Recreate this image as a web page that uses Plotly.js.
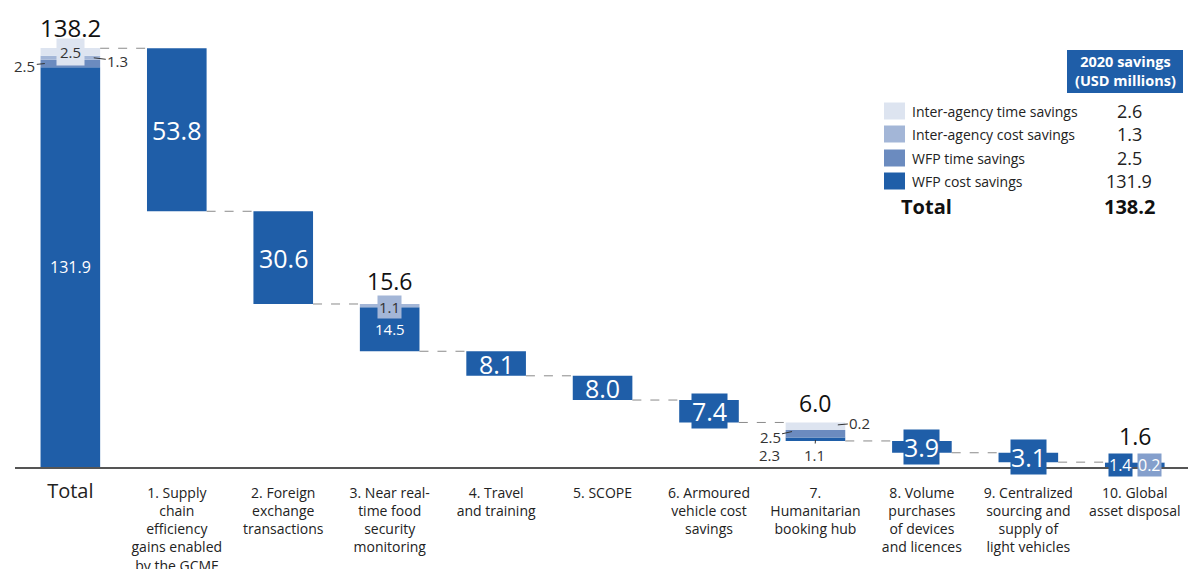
<!DOCTYPE html>
<html><head><meta charset="utf-8">
<script src="https://cdn.plot.ly/plotly-3.0.1.min.js"></script>
<style>html,body{margin:0;padding:0;background:#fff}#chart{width:1188px;height:569px}</style>
</head><body><div id="chart"></div>
<script>
const categories = ["<span style=\"font-size:20px\">Total</span>",
 "1. Supply<br>chain<br>efficiency<br>gains enabled<br>by the GCMF",
 "2. Foreign<br>exchange<br>transactions",
 "3. Near real-<br>time food<br>security<br>monitoring",
 "4. Travel<br>and training",
 "5. SCOPE",
 "6. Armoured<br>vehicle cost<br>savings",
 "7.<br>Humanitarian<br>booking hub",
 "8. Volume<br>purchases<br>of devices<br>and licences",
 "9. Centralized<br>sourcing and<br>supply of<br>light vehicles",
 "10. Global<br>asset disposal"];
const wfpCost   = [131.9, 53.8, 30.6, 14.5, 8.1, 8.0, 7.4, 1.1, 3.9, 3.1, 1.4];
const wfpTime   = [2.5, 0, 0, 0, 0, 0, 0, 2.5, 0, 0, 0];
const interCost = [1.3, 0, 0, 1.1, 0, 0, 0, 0, 0, 0, 0.2];
const interTime = [2.6, 0, 0, 0, 0, 0, 0, 2.5, 0, 0, 0];
const topLabels = ["138.2", "", "", "15.6", "", "", "", "6.0", "", "", "1.6"];
const legendNames  = ["Inter-agency time savings", "Inter-agency cost savings", "WFP time savings", "WFP cost savings"];
const legendValues = ["2.6", "1.3", "2.5", "131.9"];
const legendTotal  = "138.2";

const C_DARK = "#1f5ea8", C_MED = "#6b8bbf", C_LC = "#a3b6d7", C_LT = "#dde4f0";
const FONT = "Open Sans, Noto Sans, sans-serif";
const W = 1188, H = 569, ML = 15, MR = 0, MT = 10, MB = 102;
const PW = W - ML - MR, PH = H - MT - MB;
const px = x => (x - ML) / PW;
const py = y => 1 - (y - MT) / PH;

const n = categories.length;
const xs = categories.map((_, i) => i);
const sums = xs.map(i => wfpCost[i] + wfpTime[i] + interCost[i] + interTime[i]);
const bottom = new Array(n).fill(0);
for (let i = n - 2; i >= 1; i--) bottom[i] = bottom[i + 1] + sums[i + 1];
bottom[0] = 0;
const barTop = xs.map(i => bottom[i] + sums[i]);
const BW = 0.56;

const series = [[wfpCost, C_DARK], [wfpTime, C_MED], [interCost, C_LC], [interTime, C_LT]];
const traces = [];
let acc = bottom.slice();
series.forEach(([vals, col]) => {
  traces.push({type: "bar", x: xs, y: vals, base: acc.slice(), width: BW,
    marker: {color: col, line: {width: 0}}, hoverinfo: "skip", showlegend: false});
  acc = acc.map((b, i) => b + vals[i]);
});

const shapes = [];
for (let i = 1; i < n; i++) {
  shapes.push({type: "line", xref: "x", yref: "y", x0: i - 1 + BW / 2, x1: i - BW / 2,
    y0: barTop[i], y1: barTop[i], line: {color: "#8a8a8a", width: 1, dash: "dash"}});
}
const ann = [];
const A = o => ann.push(Object.assign({xanchor: "center", yanchor: "middle", showarrow: false}, o));
const topShift = {0: 2, 3: 5, 7: 1, 10: 8};
xs.forEach(i => { if (topLabels[i]) A({x: i, y: barTop[i], xref: "x", yref: "y", text: topLabels[i],
  yanchor: "bottom", yshift: topShift[i] || 0, font: {family: FONT, size: i === 0 ? 24 : 23, color: "#111"}}); });
const big = [1, 2, 4, 5, 6, 8, 9];
big.forEach(i => {
  const boxed = wfpCost[i] < 8;
  A({x: i, y: bottom[i] + wfpCost[i] / 2, xref: "x", yref: "y", text: wfpCost[i].toFixed(1),
    font: {family: FONT, size: 25, color: "#fff"}, bgcolor: boxed ? C_DARK : "rgba(0,0,0,0)", borderpad: 0});
});
A({x: 0, y: wfpCost[0] / 2, xref: "x", yref: "y", text: wfpCost[0].toFixed(1), font: {family: FONT, size: 16, color: "#fff"}});
A({x: 3, y: bottom[3] + wfpCost[3] / 2, xref: "x", yref: "y", text: wfpCost[3].toFixed(1), font: {family: FONT, size: 15, color: "#fff"}});
A({x: 3, y: bottom[3] + wfpCost[3] + 0.1, xref: "x", yref: "y", text: interCost[3].toFixed(1), font: {family: FONT, size: 15, color: "#333"}, bgcolor: C_LC, borderpad: 1});
A({x: 0, y: barTop[0] - 1.2, xref: "x", yref: "y", text: "2.5", font: {family: FONT, size: 15, color: "#333"}, bgcolor: C_LT, borderpad: 3});
const arr = {showarrow: true, arrowhead: 0, arrowwidth: 1, arrowcolor: "#333", standoff: 0};
A(Object.assign({x: -BW / 2 + 0.04, y: wfpCost[0] + wfpTime[0] / 2, xref: "x", yref: "y", text: wfpTime[0].toFixed(1), ax: -20, ay: 2, font: {family: FONT, size: 15, color: "#333"}}, arr));
A(Object.assign({x: BW / 2 - 0.06, y: wfpCost[0] + wfpTime[0] + interCost[0] / 2, xref: "x", yref: "y", text: interCost[0].toFixed(1), ax: 24, ay: 3, font: {family: FONT, size: 15, color: "#333"}}, arr));
A(Object.assign({x: 7 - BW / 2 + 0.06, y: bottom[7] + wfpCost[7] + 2.0, xref: "x", yref: "y", text: "2.5", ax: -22, ay: 5, font: {family: FONT, size: 15, color: "#333"}}, arr));
A({x: 7, y: bottom[7] - 4.6, xref: "x", yref: "y", xshift: -46, text: "2.3", font: {family: FONT, size: 15, color: "#333"}});
A(Object.assign({x: 7, y: bottom[7] + 0.3, xref: "x", yref: "y", text: wfpCost[7].toFixed(1), ax: -1, ay: 15, font: {family: FONT, size: 15, color: "#333"}}, arr));
A(Object.assign({x: 7 + BW / 2 - 0.07, y: barTop[7] - 0.8, xref: "x", yref: "y", text: "0.2", ax: 22, ay: -2, font: {family: FONT, size: 15, color: "#333"}}, arr));
A({x: 10, y: 0.6, xref: "x", yref: "y", xshift: -14, text: wfpCost[10].toFixed(1), font: {family: FONT, size: 16, color: "#fff"}, bgcolor: C_DARK, borderpad: 0});
A({x: 10, y: 0.6, xref: "x", yref: "y", xshift: 15, text: interCost[10].toFixed(1), font: {family: FONT, size: 16, color: "#fff"}, bgcolor: "#849fcc", borderpad: 0});

shapes.push({type: "rect", xref: "paper", yref: "paper", x0: px(1067), x1: px(1183), y0: py(93), y1: py(50), fillcolor: C_DARK, line: {width: 0}});
A({xref: "paper", yref: "paper", x: px(1125), y: py(71.5), text: "<b>2020 savings<br>(USD millions)</b>", font: {family: FONT, size: 14.5, color: "#fff"}});
const legCols = [C_LT, C_LC, C_MED, C_DARK];
const rowsY = [111, 134, 158, 181];
legendNames.forEach((nm, k) => {
  shapes.push({type: "rect", xref: "paper", yref: "paper", x0: px(884), x1: px(905), y0: py(rowsY[k] + 8.5), y1: py(rowsY[k] - 8.5), fillcolor: legCols[k], line: {width: 0}});
  A({xref: "paper", yref: "paper", x: px(910), y: py(rowsY[k]), xanchor: "left", text: nm, font: {family: FONT, size: 14, color: "#222"}});
  A({xref: "paper", yref: "paper", x: px(1129), y: py(rowsY[k]), text: legendValues[k], borderpad: 0, font: {family: FONT, size: 18, color: "#222"}});
});
A({xref: "paper", yref: "paper", x: px(926), y: py(207), text: "<b>Total</b>", font: {family: FONT, size: 20, color: "#111"}});
A({xref: "paper", yref: "paper", x: px(1129), y: py(207), text: "<b>" + legendTotal + "</b>", font: {family: FONT, size: 20, color: "#111"}});

const layout = {
  width: W, height: H, margin: {l: ML, r: MR, t: MT, b: MB},
  paper_bgcolor: "#fff", plot_bgcolor: "#fff", barmode: "overlay", showlegend: false,
  xaxis: {range: [-0.52, 10.5], tickvals: xs, ticktext: categories, showgrid: false, zeroline: false,
    showline: true, linecolor: "#555", linewidth: 2, ticks: "", ticklabelstandoff: 12,
    tickfont: {family: FONT, size: 14, color: "#222"}, fixedrange: true},
  yaxis: {range: [0, PH / 3.03], visible: false, fixedrange: true},
  shapes: shapes, annotations: ann
};
Plotly.newPlot("chart", traces, layout, {displayModeBar: false, staticPlot: true});
</script></body></html>
